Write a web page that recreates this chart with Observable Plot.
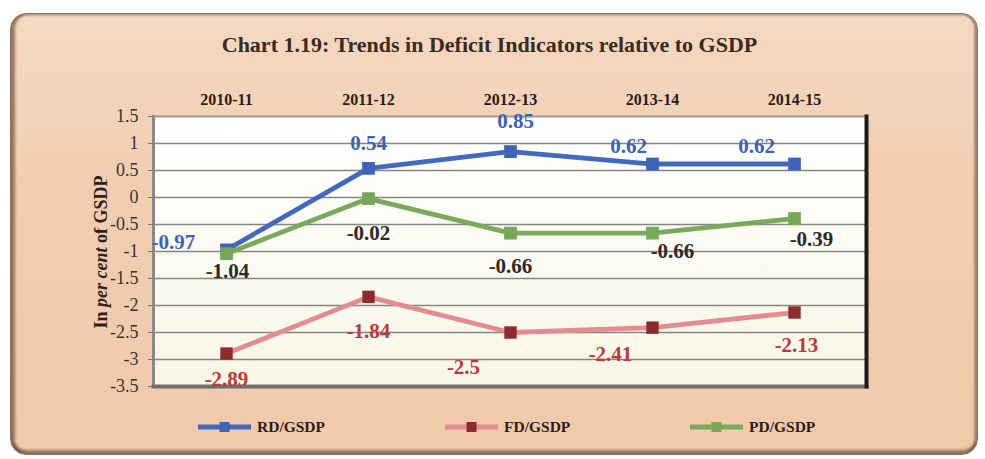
<!DOCTYPE html>
<html>
<head>
<meta charset="utf-8">
<script src="https://cdn.jsdelivr.net/npm/d3@7"></script>
<script src="https://cdn.jsdelivr.net/npm/@observablehq/plot@0.6"></script>
<style>
  html, body { margin: 0; padding: 0; background: #ffffff; }
  body { width: 985px; height: 459px; position: relative; overflow: hidden; font-family: "Liberation Serif", "Times New Roman", serif; }
  #panel {
    position: absolute; left: 10px; top: 13px; width: 966px; height: 440px;
    border-radius: 16px;
    background: linear-gradient(180deg, #f5d9c2 0%, #f2cdb0 40%, #f1c9ab 100%);
    box-shadow: inset 5px 0 3px -1px rgba(90,60,40,0.6), inset 0 -5px 3px -1px rgba(90,60,40,0.6), inset -4px 0 2px -1px rgba(90,60,40,0.45), inset 0 3px 2px -1px rgba(120,90,70,0.35);
    border: 1px solid #8a7565;
  }
  #chart { position: absolute; left: 0; top: 0; }
  #title {
    position: absolute; left: 0; width: 979px; top: 32px; text-align: center;
    font-weight: bold; font-size: 22px; color: #3b2a1e;
  }
  #ylabel {
    position: absolute; left: 101px; top: 252px; transform: translate(-50%, -50%) rotate(-90deg);
    white-space: nowrap; font-weight: bold; font-size: 18px; color: #2e2218;
  }
  .leg { position: absolute; top: 418px; height: 18px; display: flex; align-items: center; font-weight: bold; font-size: 15.5px; color: #2a1c14; }
  .leg svg { margin-right: 6px; }
</style>
</head>
<body>
<div id="panel"></div>
<div id="chart"></div>
<div id="title">Chart 1.19: Trends in Deficit Indicators relative to GSDP</div>
<div id="ylabel">In <i>per cent</i> of GSDP</div>
<div id="legend"></div>
<script>
const years = ["2010-11", "2011-12", "2012-13", "2013-14", "2014-15"];
const seriesNames = ["RD/GSDP", "FD/GSDP", "PD/GSDP"];
const rdValues = [-0.97, 0.54, 0.85, 0.62, 0.62];
const fdValues = [-2.89, -1.84, -2.5, -2.41, -2.13];
const pdValues = [-1.04, -0.02, -0.66, -0.66, -0.39];
const yTicks = [1.5, 1, 0.5, 0, -0.5, -1, -1.5, -2, -2.5, -3, -3.5];

// styling (label nudges reproduce the manual label placement of the original)
const style = {
  "RD/GSDP": {line: "#4169bd", marker: "#3e64b8", text: "#3c63b4", r: 7.2,
              nudge: [[-53, -8], [0, -25], [5, -30], [-24, -18], [-38, -18]]},
  "FD/GSDP": {line: "#e38c92", marker: "#8e2b2c", text: "#c0393a", r: 7,
              nudge: [[0, 26], [0, 34], [-47, 35], [-42, 27], [2, 33]]},
  "PD/GSDP": {line: "#79aa5c", marker: "#77a85a", text: "#2d2a26", r: 7.2,
              nudge: [[1, 18], [0, 35], [0, 33], [20, 18], [17, 21]]}
};

const valuesBySeries = {"RD/GSDP": rdValues, "FD/GSDP": fdValues, "PD/GSDP": pdValues};
const rows = [];
for (const s of seriesNames) {
  valuesBySeries[s].forEach((v, i) => rows.push({series: s, year: years[i], value: v, i}));
}

const W = 985, H = 459;
const marks = [
  Plot.frame({fill: "url(#plotbg)", stroke: "none"}),
  Plot.gridY(yTicks, {stroke: "#858585", strokeOpacity: 1, strokeWidth: 1.3}),
  Plot.frame({anchor: "left", stroke: "#8a8a8a", strokeWidth: 3}),
  Plot.frame({anchor: "top", stroke: "#9a9a9a", strokeWidth: 1.5}),
  Plot.frame({anchor: "bottom", stroke: "#6e6e6e", strokeWidth: 4}),
  Plot.frame({anchor: "right", stroke: "#1c1c1c", strokeWidth: 4}),
  Plot.axisY({ticks: yTicks, tickSize: 5, tickPadding: 10, fontSize: 18, stroke: "#777", fill: "#3a3330", tickFormat: d => String(d), label: null}),
  Plot.axisX({anchor: "top", tickSize: 0, tickPadding: 12, fontSize: 16, fontWeight: "bold", fill: "#2a1c14", label: null})
];
for (const s of seriesNames) {
  const st = style[s];
  const data = rows.filter(d => d.series === s);
  marks.push(Plot.line(data, {x: "year", y: "value", stroke: st.line, strokeWidth: 4.8}));
}
for (const s of seriesNames) {
  const st = style[s];
  const data = rows.filter(d => d.series === s);
  marks.push(Plot.dot(data, {x: "year", y: "value", symbol: "square", r: st.r, fill: st.marker, stroke: "none"}));
}
for (const s of seriesNames) {
  const st = style[s];
  const data = rows.filter(d => d.series === s);
  data.forEach(d => {
    marks.push(Plot.text([d], {x: "year", y: "value", text: dd => String(dd.value),
      dx: st.nudge[d.i][0], dy: st.nudge[d.i][1], fill: st.text, fontSize: 21, fontWeight: "bold"}));
  });
}

const chart = Plot.plot({
  width: W, height: H,
  marginLeft: 153, marginRight: 119, marginTop: 116, marginBottom: 73,
  style: {background: "transparent", fontFamily: "'Liberation Serif', 'Times New Roman', serif", overflow: "visible"},
  x: {type: "band", domain: years, padding: 0},
  y: {domain: [-3.5, 1.5]},
  marks
});
// gradient for the plot-area fill
const defs = d3.select(chart).insert("defs", ":first-child");
const g = defs.append("linearGradient").attr("id", "plotbg").attr("x1", 0).attr("y1", 0).attr("x2", 0).attr("y2", 1);
g.append("stop").attr("offset", "0%").attr("stop-color", "#ffffff");
g.append("stop").attr("offset", "100%").attr("stop-color", "#f8f6e6");
document.getElementById("chart").appendChild(chart);

// legend
const legendPos = {"RD/GSDP": 198, "FD/GSDP": 445, "PD/GSDP": 690};
const legend = document.getElementById("legend");
for (const s of seriesNames) {
  const st = style[s];
  const div = document.createElement("div");
  div.className = "leg";
  div.style.left = legendPos[s] + "px";
  div.innerHTML = `<svg width="53" height="14"><line x1="0" y1="7" x2="53" y2="7" stroke="${st.line}" stroke-width="4.8"/><rect x="21.5" y="2" width="10" height="10" fill="${st.marker}"/></svg><span>${s}</span>`;
  legend.appendChild(div);
}
</script>
</body>
</html>
